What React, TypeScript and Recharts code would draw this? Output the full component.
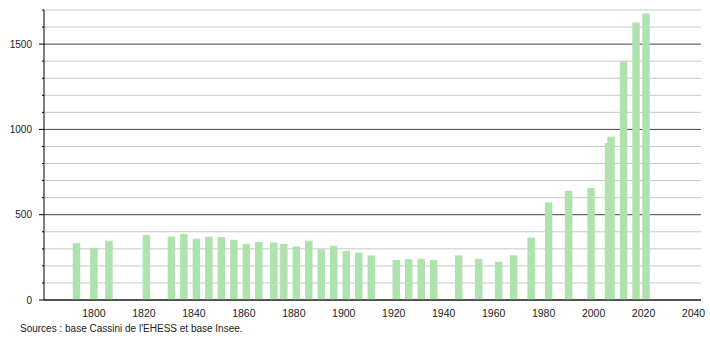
import { BarChart, Bar, XAxis, YAxis, CartesianGrid } from "recharts";

const years = [
  1793, 1800, 1806, 1821, 1831, 1836, 1841, 1846, 1851, 1856, 1861, 1866, 1872,
  1876, 1881, 1886, 1891, 1896, 1901, 1906, 1911, 1921, 1926, 1931, 1936, 1946,
  1954, 1962, 1968, 1975, 1982, 1990, 1999, 2006, 2007, 2012, 2017, 2021,
];
const population = [
  333, 306, 347, 382, 372, 388, 359, 372, 369, 353, 329, 341, 337, 329, 314, 347,
  298, 318, 288, 278, 261, 235, 239, 241, 235, 262, 241, 224, 262, 366, 572, 640,
  657, 921, 957, 1400, 1627, 1680,
];
const xTicks = [1800, 1820, 1840, 1860, 1880, 1900, 1920, 1940, 1960, 1980, 2000, 2020, 2040];
const yTicks = [0, 100, 200, 300, 400, 500, 600, 700, 800, 900, 1000, 1100, 1200, 1300, 1400, 1500, 1600, 1700];
const yLabels = [0, 500, 1000, 1500];

const data = years.map((year, i) => ({ year, pop: population[i] }));

const FONT = '"Liberation Sans", Arial, sans-serif';
const BAR_W = 7.5;

function YTick(props: any) {
  const { x, y, payload } = props;
  const major = yLabels.includes(payload.value);
  return (
    <g>
      <line x1={x - (major ? 5 : 2)} x2={x} y1={y} y2={y} stroke="#000" />
      {major && (
        <text x={x - 12} y={y} dy={3.5} textAnchor="end" fontSize={10} fill="#222" fontFamily={FONT}>
          {payload.value}
        </text>
      )}
    </g>
  );
}

function GridLine(props: any) {
  const { x1, x2, y1, y2, index } = props;
  const value = yTicks[index];
  const major = value % 500 === 0;
  return <line x1={x1} x2={x2} y1={y1} y2={y2} stroke={major ? "#444" : "#c8c8c8"} strokeWidth={1} />;
}

// the bands get squeezed by the 2006/2007 pair, so draw a fixed-width bar around the band centre
function PopBar(props: any) {
  const { x, y, width, height } = props;
  if (!height) return null;
  return <rect x={x + width / 2 - BAR_W / 2} y={y} width={BAR_W} height={height} fill="#aee3ae" />;
}

export default function App() {
  return (
    <div style={{ position: "absolute", left: 0, top: 0, width: 710, height: 340, background: "#fff" }}>
      <BarChart width={710} height={340} data={data} margin={{ top: 10, right: 9, left: 0, bottom: 20 }}>
        <CartesianGrid vertical={false} horizontal={GridLine} />
        <XAxis
          dataKey="year"
          type="number"
          domain={[1780, 2043]}
          ticks={xTicks}
          tickLine={false}
          axisLine={{ stroke: "#000" }}
          tick={{ fontSize: 10.5, fill: "#222", fontFamily: FONT }}
          tickMargin={4}
          height={20}
          allowDataOverflow
        />
        <YAxis
          type="number"
          domain={[0, 1700]}
          ticks={yTicks}
          interval={0}
          width={44}
          tickLine={false}
          tickSize={0}
          tickMargin={0}
          axisLine={{ stroke: "#000" }}
          tick={<YTick />}
          allowDataOverflow
        />
        <Bar dataKey="pop" fill="#aee3ae" shape={PopBar} isAnimationActive={false} />
      </BarChart>
      <div
        style={{
          position: "absolute",
          left: 20,
          top: 323,
          fontSize: 10,
          fontFamily: FONT,
          color: "#222",
        }}
      >
        Sources : base Cassini de l'EHESS et base Insee.
      </div>
    </div>
  );
}
